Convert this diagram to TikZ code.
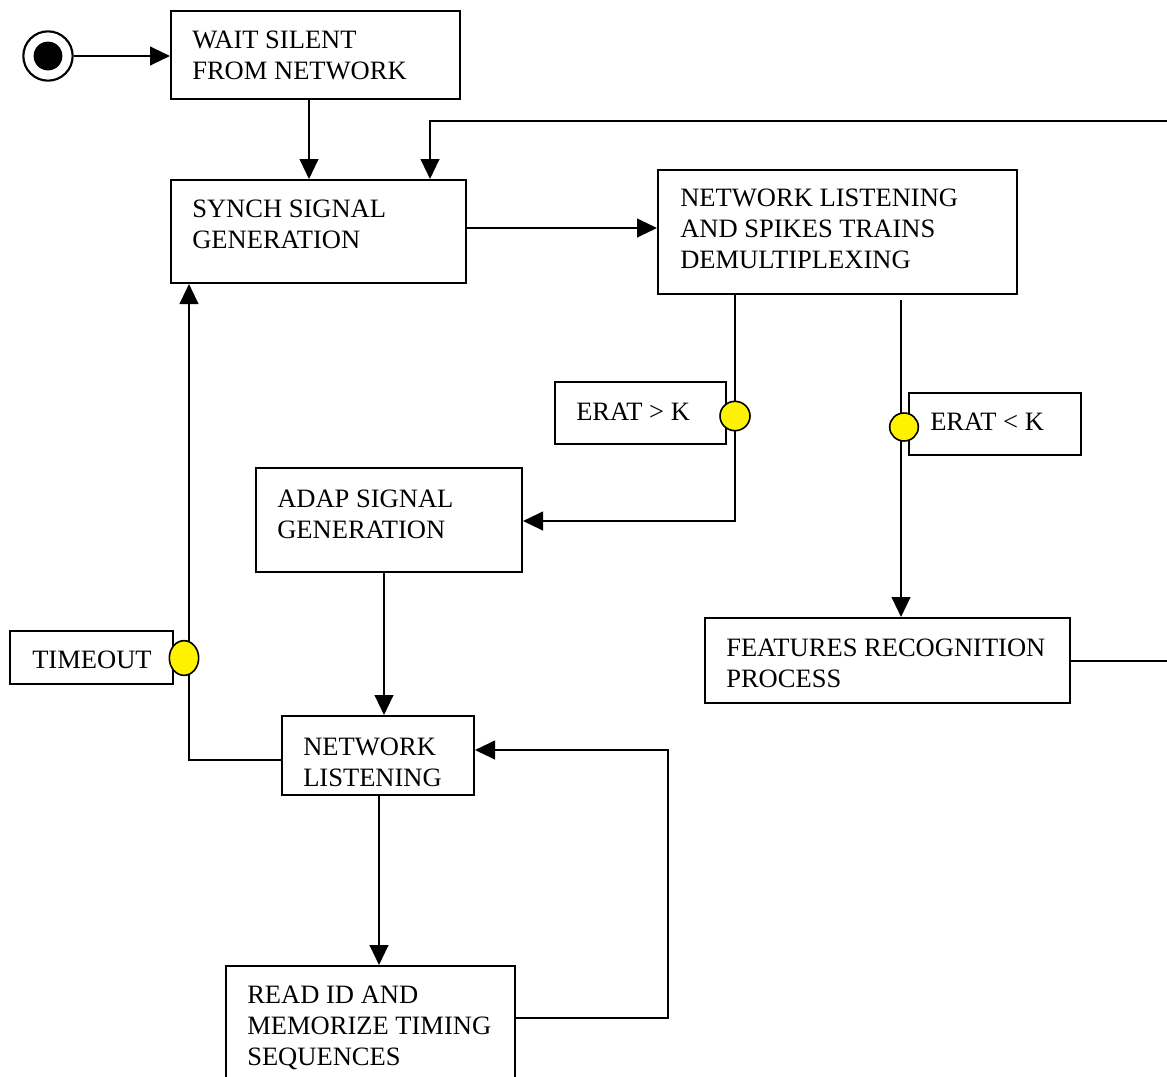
\documentclass[tikz,border=0pt]{standalone}
\usepackage{fontspec}
\setmainfont{Liberation Serif}
\usetikzlibrary{arrows.meta,shapes.geometric,fit}
\begin{document}
\begin{tikzpicture}[x=0.75pt,y=-0.75pt,
  box/.style={draw, line width=1.5pt, inner sep=0pt},
  lbl/.style={inner sep=0pt, anchor=north west, align=left, font=\fontsize{19.9}{23.25}\selectfont},
  con/.style={line width=1.6pt},
  arr/.style={con, -{Triangle[length=15pt,width=14pt]}},
  guard/.style={draw, ellipse, fill=yellow, line width=1.2pt, inner sep=0pt}]
\useasboundingbox (0,0) rectangle (1167,1076);
\clip (0,0) rectangle (1167,1076);
% start
\node[circle, draw, line width=1.6pt, minimum size=37pt, inner sep=0pt] (start) at (48,56) {};
\fill (start.center) circle (10.8pt);
% boxes
\node[box, fit={(171,11) (460,99)}] (wait) {};
\node[lbl] (waitT) at (192,30.5) {WAIT SILENT\\FROM NETWORK};
\node[box, fit={(171,180) (466,283)}] (synch) {};
\node[lbl] (synchT) at (192,199.5) {SYNCH SIGNAL\\GENERATION};
\node[box, fit={(658,170) (1017,294)}] (nld) {};
\node[lbl] (nldT) at (680,188.5) {NETWORK LISTENING\\AND SPIKES TRAINS\\DEMULTIPLEXING};
\node[box, fit={(555,382) (726,444)}] (erat1) {};
\node[lbl] (erat1T) at (576,402.5) {ERAT > K};
\node[box, fit={(909,393) (1081,455)}] (erat2) {};
\node[lbl] (erat2T) at (930,412.5) {ERAT < K};
\node[box, fit={(256,468) (522,572)}] (adap) {};
\node[lbl] (adapT) at (277,489.5) {ADAP SIGNAL\\GENERATION};
\node[box, fit={(10,631) (173,684)}] (timeout) {};
\node[lbl] (timeoutT) at (32,650.5) {TIMEOUT};
\node[box, fit={(282,716) (474,795)}] (nl) {};
\node[lbl] (nlT) at (303,737.5) {NETWORK\\LISTENING};
\node[box, fit={(226,966) (515,1095)}] (read) {};
\node[lbl] (readT) at (247,985.5) {READ ID AND\\MEMORIZE TIMING\\SEQUENCES};
\node[box, fit={(705,618) (1070,703)}] (feat) {};
\node[lbl] (featT) at (726,638.5) {FEATURES RECOGNITION\\PROCESS};
% helper coordinates
\coordinate (x309) at (309,0);
\coordinate (x430) at (430,121);
\coordinate (loopR) at (1185,121);
\coordinate (y228) at (0,228);
\coordinate (x735) at (735,521);
\coordinate (x901) at (901,300);
\coordinate (x384) at (384,0);
\coordinate (x189) at (189,760);
\coordinate (x379) at (379,0);
\coordinate (r1) at (668,1018);
\coordinate (r2) at (668,750);
\coordinate (y661) at (0,661);
% connectors
\draw[arr] (start.east) -- (start.east -| wait.west);
\draw[arr] (wait.south -| x309) -- (synch.north -| x309);
\draw[arr] (feat.east |- y661) -- (loopR |- y661) -- (loopR) -- (x430) -- (synch.north -| x430);
\draw[arr] (synch.east |- y228) -- (nld.west |- y228);
\draw[arr] (nld.south -| x735) -- (x735) -- (adap.east |- x735);
\draw[arr] (x901) -- (feat.north -| x901);
\draw[arr] (adap.south -| x384) -- (nl.north -| x384);
\draw[arr] (nl.west |- x189) -- (x189) -- (synch.south -| x189);
\draw[arr] (nl.south -| x379) -- (read.north -| x379);
\draw[arr] (read.east |- r1) -- (r1) -- (r2) -- (nl.east |- r2);
% guards
\node[guard, minimum width=22.5pt, minimum height=22pt] (g1) at (735,416) {};
\node[guard, minimum width=21.5pt, minimum height=21pt] (g2) at (904,427) {};
\node[guard, minimum width=22pt, minimum height=26pt] (g3) at (184,658) {};
\end{tikzpicture}
\end{document}
